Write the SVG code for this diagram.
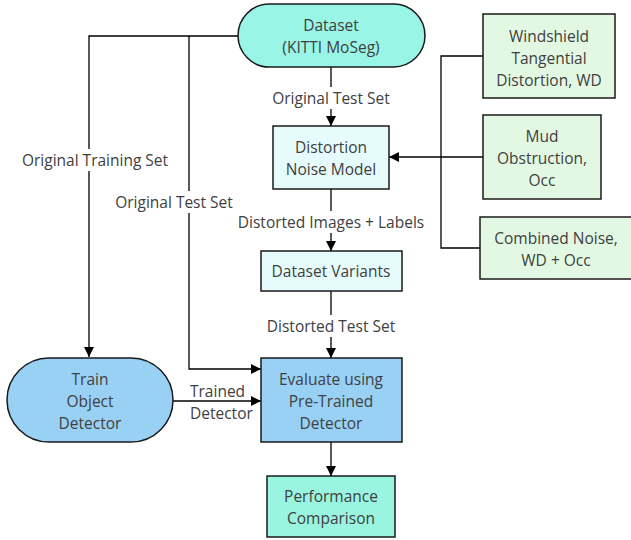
<svg xmlns="http://www.w3.org/2000/svg" width="631" height="540" viewBox="0 0 631 540">
  <style>
    .node { stroke: #1a1a1a; stroke-width: 1.5; }
    .t { font-family: "Open Sans", "Noto Sans", "DejaVu Sans", sans-serif; font-size: 15.5px; fill: #404040; text-anchor: middle; dominant-baseline: central; }
    .left { text-anchor: start; }
    .wire { fill: none; stroke: #000; stroke-width: 1.3; }
    .lbl-bg { fill: #fff; }
  </style>
  <defs>
    <marker id="arrow" viewBox="0 0 10 10" refX="10" refY="5" markerWidth="10" markerHeight="10" markerUnits="userSpaceOnUse" orient="auto">
      <path d="M0,0 L10,5 L0,10 z" fill="#000"/>
    </marker>
  </defs>
  <rect width="631" height="540" fill="#fff"/>

  <g id="connectors">
    <path class="wire" d="M331,67 V126" marker-end="url(#arrow)"/>
    <path class="wire" d="M238,36 H89 V357" marker-end="url(#arrow)"/>
    <path class="wire" d="M189,36 V369 H261" marker-end="url(#arrow)"/>
    <path class="wire" d="M483,56 H441 V248 H480"/>
    <path class="wire" d="M483,157 H389" marker-end="url(#arrow)"/>
    <path class="wire" d="M331,189 V251" marker-end="url(#arrow)"/>
    <path class="wire" d="M331,291 V358" marker-end="url(#arrow)"/>
    <path class="wire" d="M173,401 H261" marker-end="url(#arrow)"/>
    <path class="wire" d="M331,442 V476" marker-end="url(#arrow)"/>

    <rect class="lbl-bg" x="264" y="87" width="134" height="22"/>
    <text class="t" x="331" y="98">Original Test Set</text>
    <rect class="lbl-bg" x="16" y="149" width="158" height="22"/>
    <text class="t" x="95" y="160">Original Training Set</text>
    <rect class="lbl-bg" x="109" y="191" width="130" height="22"/>
    <text class="t" x="174" y="202">Original Test Set</text>
    <rect class="lbl-bg" x="228" y="211" width="206" height="22"/>
    <text class="t" x="331" y="222">Distorted Images + Labels</text>
    <rect class="lbl-bg" x="260" y="315" width="142" height="22"/>
    <text class="t" x="331" y="326">Distorted Test Set</text>
    <text class="t left" x="190" y="391">Trained</text>
    <text class="t left" x="190" y="413">Detector</text>
  </g>

  <g id="dataset">
    <rect class="node" x="238" y="4" width="187" height="63" rx="31.5" fill="#99f5e6"/>
    <text class="t" x="331" y="25">Dataset</text>
    <text class="t" x="331" y="47">(KITTI MoSeg)</text>
  </g>

  <g id="noise-model">
    <rect class="node" x="273" y="126" width="116" height="63" fill="#e6fcfc"/>
    <text class="t" x="331" y="147">Distortion</text>
    <text class="t" x="331" y="169">Noise Model</text>
  </g>

  <g id="windshield">
    <rect class="node" x="483" y="14" width="132" height="84" fill="#e3f8e3"/>
    <text class="t" x="549" y="36">Windshield</text>
    <text class="t" x="549" y="58">Tangential</text>
    <text class="t" x="549" y="80">Distortion, WD</text>
  </g>

  <g id="mud">
    <rect class="node" x="483" y="115" width="118" height="84" fill="#e3f8e3"/>
    <text class="t" x="542" y="136">Mud</text>
    <text class="t" x="542" y="158">Obstruction,</text>
    <text class="t" x="542" y="180">Occ</text>
  </g>

  <g id="combined">
    <rect class="node" x="480" y="217" width="152" height="62" fill="#e3f8e3"/>
    <text class="t" x="556" y="238">Combined Noise,</text>
    <text class="t" x="556" y="260">WD + Occ</text>
  </g>

  <g id="variants">
    <rect class="node" x="261" y="251" width="141" height="40" fill="#e6fcfc"/>
    <text class="t" x="331" y="271">Dataset Variants</text>
  </g>

  <g id="train">
    <rect class="node" x="7" y="358" width="166" height="84" rx="42" fill="#99d1f5"/>
    <text class="t" x="90" y="379">Train</text>
    <text class="t" x="90" y="401">Object</text>
    <text class="t" x="90" y="423">Detector</text>
  </g>

  <g id="evaluate">
    <rect class="node" x="261" y="358" width="141" height="84" fill="#99d1f5"/>
    <text class="t" x="331" y="379">Evaluate using</text>
    <text class="t" x="331" y="401">Pre-Trained</text>
    <text class="t" x="331" y="423">Detector</text>
  </g>

  <g id="performance">
    <rect class="node" x="267" y="476" width="128" height="61" fill="#99f5e0"/>
    <text class="t" x="331" y="496">Performance</text>
    <text class="t" x="331" y="518">Comparison</text>
  </g>
</svg>
